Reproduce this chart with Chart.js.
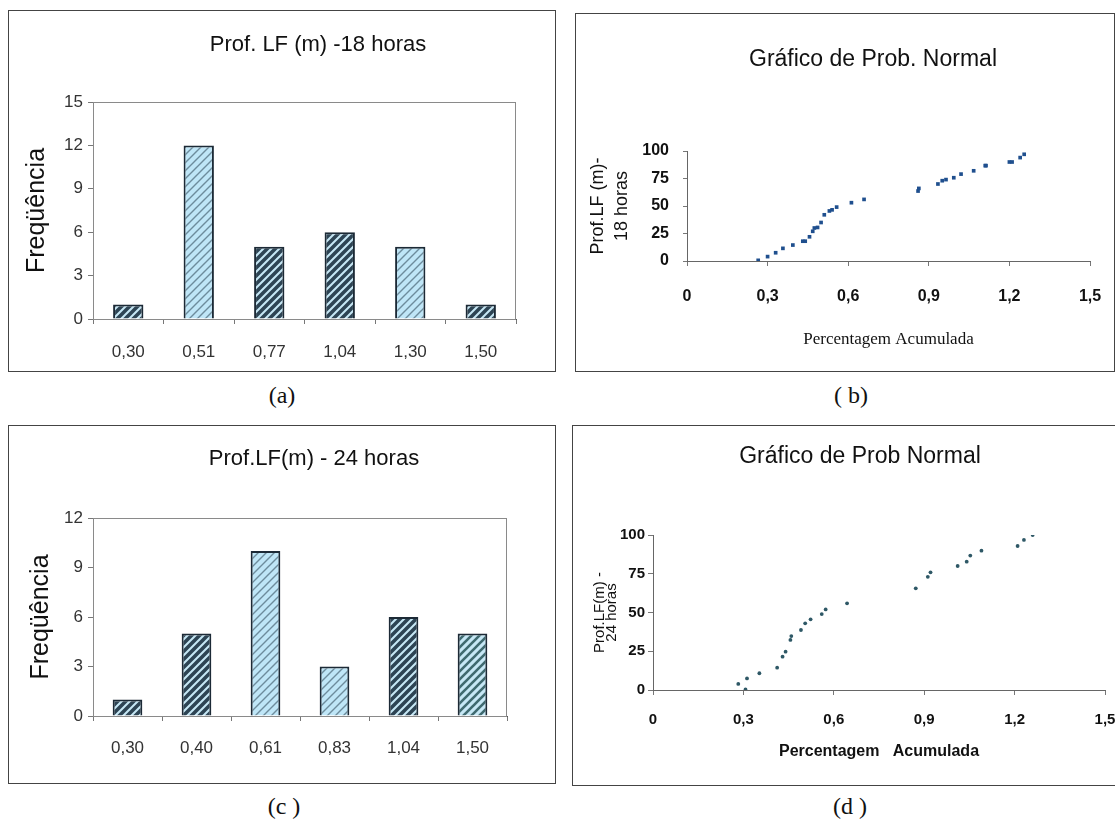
<!DOCTYPE html>
<html>
<head>
<meta charset="utf-8">
<script src="https://cdn.jsdelivr.net/npm/chart.js@4.4.1/dist/chart.umd.min.js"></script>
<style>
  body { margin: 0; background: #fff; width: 1115px; height: 830px; overflow: hidden; position: relative; }
  .frame { position: absolute; border: 1px solid #444; box-sizing: border-box; }
  canvas { position: absolute; }
  .tag { position: absolute; font: 24px "Liberation Serif", "Times New Roman", serif; color: #111; transform: translate(-50%, -50%); white-space: pre; }
</style>
</head>
<body>
<div class="frame" style="left:8px;top:10px;width:548px;height:362px"></div>
<div class="frame" style="left:575px;top:13px;width:540px;height:359px"></div>
<div class="frame" style="left:8px;top:425px;width:548px;height:359px"></div>
<div class="frame" style="left:572px;top:425px;width:560px;height:361px"></div>

<canvas id="chartA" width="618" height="359" style="left:9px;top:11px"></canvas>
<canvas id="chartB" width="594" height="357" style="left:576px;top:14px"></canvas>
<canvas id="chartC" width="610" height="357" style="left:9px;top:426px"></canvas>
<canvas id="chartD" width="574" height="358" style="left:573px;top:426px"></canvas>

<div class="tag" style="left:282px;top:395px">(a)</div>
<div class="tag" style="left:851px;top:395px">( b)</div>
<div class="tag" style="left:284px;top:806px">(c )</div>
<div class="tag" style="left:850px;top:806px">(d )</div>

<script>
// histogramas
const catA = ['0,30', '0,51', '0,77', '1,04', '1,30', '1,50'];
const freqA = [1, 12, 5, 6, 5, 1];
const catC = ['0,30', '0,40', '0,61', '0,83', '1,04', '1,50'];
const freqC = [1, 5, 10, 3, 6, 5];

// graficos de probabilidade normal
const xTickLabels = ['0', '0,3', '0,6', '0,9', '1,2', '1,5'];
const probX18 = [0.265, 0.30, 0.33, 0.357, 0.394, 0.431, 0.44, 0.456, 0.468, 0.474, 0.486, 0.499, 0.511, 0.53, 0.54, 0.557,
  0.612, 0.659, 0.86, 0.863, 0.934, 0.95, 0.964, 0.993, 1.02, 1.067, 1.11, 1.113, 1.2, 1.21, 1.24, 1.255];
const probY18 = [0.6, 4, 7.5, 11.5, 14.5, 18, 18, 22, 27, 30, 30.5, 35, 42, 45.5, 46.5, 49,
  53, 56, 63.6, 66, 70, 73, 74, 75.7, 79, 82, 86.7, 86.7, 90, 90, 94, 97];
const probX24 = [0.283, 0.307, 0.312, 0.353, 0.412, 0.43, 0.44, 0.456, 0.459, 0.491, 0.505, 0.523, 0.56, 0.573,
  0.644, 0.872, 0.912, 0.921, 1.011, 1.041, 1.053, 1.09, 1.21, 1.231, 1.26];
const probY24 = [3.9, 0.4, 7.5, 10.8, 14.4, 21.5, 24.7, 32.3, 34.8, 38.7, 43, 45.6, 49, 52,
  55.9, 65.6, 73, 75.9, 80, 82.8, 86.7, 89.9, 92.9, 96.8, 100];

Chart.defaults.font.family = '"Liberation Sans", Arial, sans-serif';
Chart.defaults.color = '#222';
Chart.defaults.animation = false;
Chart.defaults.plugins.legend.display = false;
Chart.defaults.plugins.tooltip.enabled = false;

// hachuras das barras
function makePattern(bg, fg, lw) {
  const c = document.createElement('canvas');
  c.width = 8; c.height = 8;
  const g = c.getContext('2d');
  g.fillStyle = bg;
  g.fillRect(0, 0, 8, 8);
  g.strokeStyle = fg;
  g.lineWidth = lw;
  g.beginPath();
  g.moveTo(0, 8); g.lineTo(8, 0);
  g.moveTo(-2, 2); g.lineTo(2, -2);
  g.moveTo(6, 10); g.lineTo(10, 6);
  g.stroke();
  return g.createPattern(c, 'repeat');
}
const pDark = makePattern('#c6e7f5', '#2d4454', 3.6);
const pLight = makePattern('#bfe6f7', '#6d8c9c', 1.4);
const pMid = makePattern('#c6e7f5', '#3f6a70', 2.6);

// moldura da area do grafico
const plotBorder = {
  id: 'plotBorder',
  beforeDatasetsDraw(chart) {
    const { ctx, chartArea: a } = chart;
    ctx.save();
    ctx.strokeStyle = '#8a8a8a';
    ctx.lineWidth = 1;
    ctx.strokeRect(a.left + 0.5, a.top + 0.5, a.width - 1, a.height);
    ctx.restore();
  }
};

function spacer(w) {
  return {
    type: 'linear', position: 'right', display: true,
    grid: { display: false, drawTicks: false }, border: { display: false },
    ticks: { display: false },
    afterFit: s => { s.width = w; }
  };
}

function barConfig(labels, values, colors, yMax, title, dims) {
  return {
    type: 'bar',
    data: {
      labels: labels,
      datasets: [{
        data: values,
        backgroundColor: colors,
        borderColor: '#1c2a36',
        borderWidth: 2,
        barPercentage: 0.43,
        categoryPercentage: 1
      }]
    },
    options: {
      responsive: false,
      layout: { padding: 0 },
      plugins: {
        title: {
          display: true, text: title, color: '#111',
          font: { size: 22, weight: 'normal' },
          padding: { top: dims.titleTop, bottom: dims.titleBottom }
        }
      },
      scales: {
        x: {
          grid: { display: true, drawOnChartArea: false, tickLength: 5, color: '#777', offset: true },
          border: { display: true, color: '#555' },
          ticks: { font: { size: 17 }, color: '#333', padding: dims.xPad },
          afterFit: s => { s.height = dims.xHeight; }
        },
        y: {
          min: 0, max: yMax,
          ticks: { stepSize: 3, font: { size: 17 }, color: '#333', padding: 5 },
          grid: { display: true, drawOnChartArea: false, tickLength: 5, color: '#777' },
          border: { display: true, color: '#555' },
          title: {
            display: true, text: 'Freqüência', color: '#111',
            font: { size: 25 }, padding: { top: dims.yTitlePad, bottom: 0 }
          },
          afterFit: s => { s.width = 84; }
        },
        pad: spacer(dims.right)
      }
    },
    plugins: [plotBorder]
  };
}

const configA = barConfig(catA, freqA, [pDark, pLight, pDark, pDark, pLight, pDark], 15,
  'Prof. LF (m) -18 horas',
  { titleTop: 21, titleBottom: 43.6, xPad: 18, xHeight: 51, yTitlePad: 13, right: 111 });
const chartA = new Chart(document.getElementById('chartA'), configA);

const configC = barConfig(catC, freqC, [pDark, pDark, pLight, pLight, pDark, pMid], 12,
  'Prof.LF(m) - 24 horas',
  { titleTop: 20, titleBottom: 45.6, xPad: 17, xHeight: 67, yTitlePad: 17, right: 112 });
const chartC = new Chart(document.getElementById('chartC'), configC);

// grafico (b)
const configB = {
  type: 'scatter',
  data: {
    datasets: [{
      data: probX18.map((x, i) => ({ x: x, y: probY18[i] })),
      pointStyle: 'rect',
      pointRadius: 2.6,
      backgroundColor: '#1f4f8e',
      borderWidth: 0
    }]
  },
  options: {
    responsive: false,
    layout: { padding: 0 },
    plugins: {
      title: {
        display: true, text: 'Gráfico de Prob. Normal', color: '#111',
        font: { size: 23, weight: 'normal' },
        padding: { top: 32, bottom: 77.4 }
      }
    },
    scales: {
      x: {
        type: 'linear', min: 0, max: 1.5,
        ticks: { stepSize: 0.3, font: { size: 16, weight: 'bold' }, color: '#111', padding: 21,
          callback: (v, i) => xTickLabels[i] ?? '' },
        grid: { display: true, drawOnChartArea: false, tickLength: 5, color: '#777' },
        border: { display: true, color: '#666' },
        title: {
          display: true, text: 'Percentagem Acumulada', color: '#111',
          font: { family: '"Liberation Serif", "Times New Roman", serif', size: 17 },
          padding: { top: 0, bottom: 21 }
        },
        afterFit: s => { s.height = 110; }
      },
      y: {
        min: 0, max: 100,
        ticks: { stepSize: 25, font: { size: 16, weight: 'bold' }, color: '#111', padding: 14 },
        grid: { display: true, drawOnChartArea: false, tickLength: 4, color: '#777' },
        border: { display: true, color: '#666' },
        title: {
          display: true, text: ['Prof.LF (m)-', '18 horas'], color: '#111',
          font: { size: 18, lineHeight: 1.33 }, padding: { top: 10, bottom: 0 }
        },
        afterFit: s => { s.width = 111; }
      },
      pad: spacer(80)
    }
  }
};
const chartB = new Chart(document.getElementById('chartB'), configB);

// grafico (d)
const configD = {
  type: 'scatter',
  data: {
    datasets: [{
      data: probX24.map((x, i) => ({ x: x, y: probY24[i] })),
      pointStyle: 'circle',
      pointRadius: 1.9,
      backgroundColor: '#2e5866',
      borderWidth: 0
    }]
  },
  options: {
    responsive: false,
    layout: { padding: 0 },
    plugins: {
      title: {
        display: true, text: 'Gráfico de Prob Normal', color: '#111',
        font: { size: 23, weight: 'normal' },
        padding: { top: 17, bottom: 64.4 }
      }
    },
    scales: {
      x: {
        type: 'linear', min: 0, max: 1.5,
        ticks: { stepSize: 0.3, font: { size: 15, weight: 'bold' }, color: '#111', padding: 16,
          callback: (v, i) => xTickLabels[i] ?? '' },
        grid: { display: true, drawOnChartArea: false, tickLength: 5, color: '#777' },
        border: { display: true, color: '#666' },
        title: {
          display: true, text: 'Percentagem   Acumulada', color: '#111',
          font: { size: 16, weight: 'bold' },
          padding: { top: 0, bottom: 22.4 }
        },
        afterFit: s => { s.height = 94; }
      },
      y: {
        min: 0, max: 100,
        ticks: { stepSize: 25, font: { size: 15, weight: 'bold' }, color: '#111', padding: 3 },
        grid: { display: true, drawOnChartArea: false, tickLength: 5, color: '#777' },
        border: { display: true, color: '#666' },
        title: {
          display: true, text: ['Prof.LF(m) -', '24 horas'], color: '#111',
          font: { size: 15, lineHeight: 0.8 }, padding: { top: 21, bottom: 0 }
        },
        afterFit: s => { s.width = 80; }
      },
      pad: spacer(42)
    }
  }
};
const chartD = new Chart(document.getElementById('chartD'), configD);
</script>
</body>
</html>
